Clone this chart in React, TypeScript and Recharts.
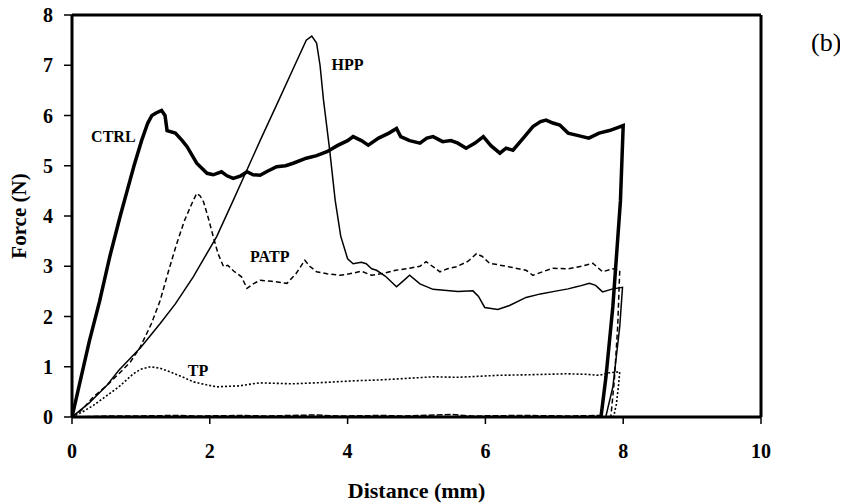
import React from 'react';
import { LineChart, Line, XAxis, YAxis, ReferenceLine, ReferenceDot } from 'recharts';

const ctrlX = [0,0.1,0.25,0.4,0.55,0.7,0.8,0.9,1.01,1.1,1.16,1.22,1.3,1.35,1.38,1.5,1.6,1.67,1.81,1.96,2.05,2.17,2.25,2.34,2.45,2.54,2.63,2.73,2.85,2.97,3.1,3.21,3.4,3.55,3.7,3.85,4.0,4.08,4.2,4.3,4.45,4.6,4.71,4.77,4.9,5.05,5.15,5.24,5.38,5.5,5.6,5.72,5.85,5.97,6.08,6.21,6.3,6.4,6.55,6.69,6.8,6.88,6.98,7.08,7.2,7.35,7.5,7.65,7.8,7.9,8.0,7.96,7.85,7.75,7.68];
const ctrlY = [0,0.6,1.5,2.3,3.2,4.0,4.5,5.0,5.5,5.85,6.0,6.05,6.1,6.0,5.7,5.65,5.5,5.38,5.05,4.85,4.82,4.88,4.8,4.75,4.8,4.88,4.82,4.81,4.9,4.98,5.0,5.05,5.15,5.2,5.28,5.4,5.5,5.58,5.5,5.41,5.55,5.65,5.74,5.58,5.5,5.45,5.55,5.58,5.48,5.5,5.45,5.35,5.45,5.58,5.4,5.25,5.35,5.31,5.55,5.78,5.88,5.91,5.85,5.81,5.65,5.6,5.55,5.65,5.7,5.75,5.8,4.3,2.2,0.8,0.03];

const hppX = [0,0.25,0.5,0.68,1.0,1.28,1.5,1.76,2.1,2.34,2.55,2.73,3.0,3.21,3.4,3.48,3.55,3.6,3.65,3.74,3.82,3.9,4.0,4.08,4.2,4.27,4.35,4.42,4.55,4.71,4.8,4.9,5.05,5.24,5.4,5.6,5.82,5.9,5.99,6.18,6.35,6.59,6.8,7.0,7.2,7.35,7.51,7.6,7.7,7.85,7.99,7.95,7.85,7.75];
const hppY = [0,0.28,0.62,0.93,1.39,1.86,2.25,2.79,3.59,4.31,4.95,5.5,6.3,6.93,7.5,7.58,7.44,7.0,6.31,5.31,4.31,3.6,3.15,3.05,3.08,3.05,2.95,2.92,2.8,2.59,2.7,2.82,2.65,2.54,2.52,2.5,2.51,2.4,2.18,2.14,2.22,2.38,2.45,2.5,2.55,2.6,2.66,2.62,2.49,2.55,2.58,1.8,0.6,0.02];

const patpX = [0,0.15,0.31,0.5,0.68,0.85,0.99,1.15,1.28,1.4,1.52,1.63,1.74,1.81,1.86,1.91,1.98,2.05,2.12,2.2,2.26,2.35,2.46,2.54,2.63,2.73,2.9,3.12,3.25,3.38,3.45,3.55,3.7,3.89,4.03,4.2,4.35,4.52,4.7,4.9,5.05,5.14,5.34,5.45,5.58,5.75,5.87,5.95,6.06,6.3,6.59,6.69,6.85,6.98,7.2,7.4,7.56,7.7,7.85,7.95,7.92,7.87,7.82];
const patpY = [0,0.15,0.4,0.62,0.86,1.1,1.39,1.85,2.32,2.9,3.45,3.9,4.25,4.45,4.4,4.28,3.95,3.59,3.25,2.99,3.02,2.9,2.79,2.56,2.65,2.72,2.7,2.66,2.85,3.12,3.0,2.89,2.85,2.82,2.85,2.9,2.82,2.86,2.92,2.96,3.0,3.09,2.89,2.95,2.99,3.1,3.25,3.2,3.06,3.0,2.92,2.82,2.9,2.96,2.95,3.0,3.06,2.89,2.95,2.92,1.8,0.7,0.0];

const tpX = [0,0.15,0.31,0.5,0.68,0.89,1.0,1.14,1.28,1.42,1.6,1.76,1.95,2.1,2.43,2.72,3.2,3.7,4.09,4.5,5.0,5.24,5.6,6.2,6.6,7.17,7.45,7.65,7.8,7.95,7.93,7.9,7.86];
const tpY = [0,0.1,0.23,0.42,0.6,0.86,0.95,1.0,0.97,0.9,0.8,0.7,0.64,0.6,0.62,0.68,0.66,0.69,0.72,0.74,0.78,0.8,0.79,0.83,0.84,0.86,0.85,0.83,0.88,0.9,0.6,0.25,0.0];

const baseX = [7.7,7.2,6.5,5.8,5.5,4.8,4.5,3.9,3.5,2.8,2.5,1.8,1.5,0.9,0.5,0];
const baseY = [0.03,0.02,0.03,0.02,0.05,0.02,0.03,0.02,0.04,0.02,0.03,0.02,0.03,0.02,0.02,0];

const xTicks = [0, 2, 4, 6, 8, 10];
const yTicks = [0, 1, 2, 3, 4, 5, 6, 7, 8];

const labelNames = ['CTRL', 'HPP', 'PATP', 'TP'];
const labelX = [0.6, 4.0, 2.87, 1.83];
const labelY = [5.59, 7.02, 3.19, 0.93];

const zip = (xs: number[], ys: number[]) => xs.map((x, i) => ({ x, y: ys[i] }));

const ctrl = zip(ctrlX, ctrlY);
const hpp = zip(hppX, hppY);
const patp = zip(patpX, patpY);
const tp = zip(tpX, tpY);
const base = zip(baseX, baseY);

const FONT = '"Liberation Serif", "Times New Roman", serif';

export default function App() {
  return (
    <div style={{ position: 'relative', left: -8, top: -8, width: 848, height: 504 }}>
      <LineChart width={848} height={504} margin={{ top: 15, right: 87, bottom: 0, left: 0 }}>
        <XAxis
          dataKey="x"
          type="number"
          domain={[0, 10]}
          ticks={xTicks}
          allowDataOverflow
          height={87}
          tickSize={7}
          tickMargin={20}
          axisLine={{ stroke: '#000', strokeWidth: 3 }}
          tickLine={{ stroke: '#000', strokeWidth: 1.5 }}
          tick={{ fill: '#000', fontSize: 20, fontWeight: 'bold', fontFamily: FONT }}
          label={{ value: 'Distance (mm)', position: 'insideBottom', offset: 6, fill: '#000', fontSize: 22, fontWeight: 'bold', fontFamily: FONT }}
        />
        <YAxis
          dataKey="y"
          type="number"
          domain={[0, 8]}
          ticks={yTicks}
          allowDataOverflow
          width={72}
          tickSize={8}
          tickMargin={11}
          axisLine={{ stroke: '#000', strokeWidth: 3 }}
          tickLine={{ stroke: '#000', strokeWidth: 1.5 }}
          tick={{ fill: '#000', fontSize: 20, fontWeight: 'bold', fontFamily: FONT }}
          label={{ value: 'Force (N)', angle: -90, position: 'insideLeft', offset: 19, fill: '#000', fontSize: 21, fontWeight: 'bold', fontFamily: FONT, style: { textAnchor: 'middle' } }}
        />
        <ReferenceLine y={8} stroke="#000" strokeWidth={3} />
        <ReferenceLine x={10} stroke="#000" strokeWidth={3} />
        <Line data={base} dataKey="y" type="linear" stroke="#000" strokeWidth={1.5} strokeDasharray="6 2" dot={false} isAnimationActive={false} />
        <Line data={tp} dataKey="y" type="linear" stroke="#000" strokeWidth={1.6} strokeDasharray="2 2" dot={false} isAnimationActive={false} />
        <Line data={patp} dataKey="y" type="linear" stroke="#000" strokeWidth={1.5} strokeDasharray="5 3" dot={false} isAnimationActive={false} />
        <Line data={hpp} dataKey="y" type="linear" stroke="#000" strokeWidth={1.5} dot={false} isAnimationActive={false} />
        <Line data={ctrl} dataKey="y" type="linear" stroke="#000" strokeWidth={3.5} dot={false} isAnimationActive={false} />
        {labelNames.map((name, i) => (
          <ReferenceDot
            key={name}
            x={labelX[i]}
            y={labelY[i]}
            r={0}
            fill="none"
            stroke="none"
            label={{ value: name, position: 'center', fill: '#000', fontSize: 16, fontWeight: 'bold', fontFamily: FONT }}
          />
        ))}
      </LineChart>
      <div style={{ position: 'absolute', left: 811, top: 30, fontFamily: FONT, fontSize: 26, lineHeight: 1, color: '#000' }}>(b)</div>
    </div>
  );
}
